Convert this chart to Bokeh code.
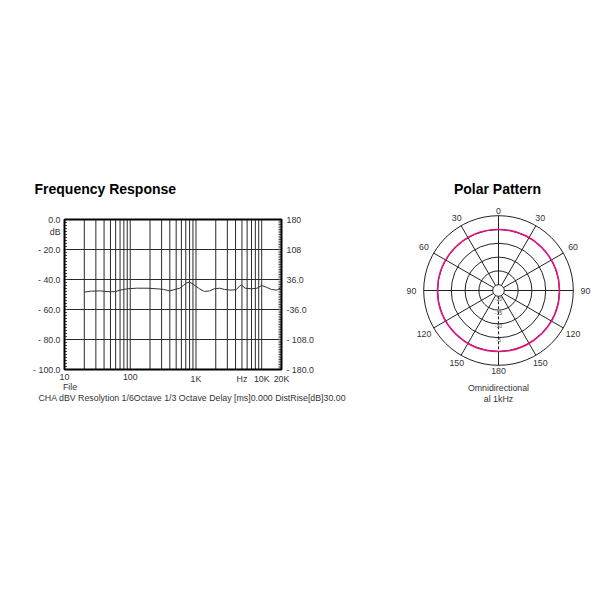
import numpy as np
from bokeh.plotting import figure
from bokeh.models import Range1d
from bokeh.layouts import row
from bokeh.embed import file_html
from bokeh.resources import INLINE
from bokeh.core.properties import value

# ---------------- data ----------------
freq_hz = [20, 25, 35, 50, 60, 70, 90, 125, 180, 255, 320, 400, 480, 570, 640, 720,
           800, 900, 1130, 1350, 1600, 1900, 2300, 2700, 3400, 4100, 4700, 4900, 5600,
           7000, 8500, 10000, 12000, 14000, 17000, 19000, 20000]
level_db = [-48.4, -47.8, -47.6, -48.2, -48.0, -47.1, -46.2, -45.8, -45.8, -46.2, -46.6,
            -47.6, -46.6, -45.8, -44.0, -42.2, -41.8, -43.0, -46.2, -48.0, -47.6, -46.2,
            -45.8, -46.6, -47.1, -46.8, -44.0, -43.6, -45.8, -46.2, -45.8, -44.0, -45.3,
            -46.6, -47.1, -45.8, -45.8]

db_ticks = [0, -20, -40, -60, -80, -100]
db_tick_labels = ["0.0", "- 20.0", "- 40.0", "- 60.0", "- 80.0", "- 100.0"]
db_unit = "dB"
phase_ticks = [180, 108, 36, -36, -108, -180]
phase_tick_labels = ["180", "108", "36.0", "-36.0", "- 108.0", "- 180.0"]
freq_ticks = [10, 100, 1000, 5000, 10000, 20000]
freq_tick_labels = ["10", "100", "1K", "Hz", "10K", "20K"]
freq_grid = [20, 30, 40, 50, 60, 70, 80, 90, 100, 200, 300, 400, 500, 600, 700, 800, 900,
             1000, 2000, 3000, 4000, 5000, 6000, 7000, 8000, 9000, 10000]
db_grid = [-20, -40, -60, -80]
f_min, f_max = 10, 20000
db_min, db_max = -100, 0
ph_min, ph_max = -180, 180
file_label = "File"
caption = "CHA dBV Resolytion 1/6Octave 1/3 Octave Delay [ms]0.000 DistRise[dB]30.00"
title_fr = "Frequency Response"

ring_db = [-20, -15, -10, -5, 0, 5]
ring_label_db = [-20, -15, -10, -5]
ring_label_text = ["-20", "-15", "-10", "-5"]
spoke_angles = [0, 30, 60, 90, 120, 150, 180, 210, 240, 270, 300, 330]
angle_label_text = ["0", "30", "60", "90", "120", "150", "180", "150", "120", "90", "60", "30"]
omni_level_db = 0
title_polar = "Polar Pattern"
polar_note = ["Omnidirectional", "al 1kHz"]

FONT = value("Liberation Sans")
TXT = "#333333"
FS = "8.8px"

# ---------------- frequency response (frame = whole canvas) ----------------
W1, H = 352, 584
BL, BT, FW, FH = 64, 219, 217, 150          # frame box inside canvas (px)
D = FW / np.log10(f_max / f_min)            # px per decade
PY = FH / (db_max - db_min)                 # px per dB
x_lo = 10 ** (np.log10(f_min) - BL / D)
x_hi = 10 ** (np.log10(f_max) + (W1 - BL - FW) / D)
y_hi = db_max + BT / PY
y_lo = db_min - (H - BT - FH) / PY


def fx(f, dpx):
    """frequency shifted by dpx screen pixels on the log axis"""
    return f * 10 ** (dpx / D)


def ph2db(ph):
    return db_min + (np.asarray(ph, dtype=float) - ph_min) * (db_max - db_min) / (ph_max - ph_min)


p = figure(width=W1, height=H, x_axis_type="log", x_range=Range1d(x_lo, x_hi),
           y_range=Range1d(y_lo, y_hi), min_border=0, x_axis_location=None,
           y_axis_location=None, toolbar_location=None, output_backend="svg")
p.grid.visible = False
p.outline_line_color = None
p.background_fill_color = "white"
p.border_fill_color = "white"

# grid
p.segment(x0=freq_grid, y0=[db_min] * len(freq_grid), x1=freq_grid, y1=[db_max] * len(freq_grid),
          line_color="#2a2a2a", line_width=1)
p.segment(x0=[f_min] * len(db_grid), y0=db_grid, x1=[f_max] * len(db_grid), y1=db_grid,
          line_color="#2a2a2a", line_width=1)

# left ruler ticks
minor_db = list(range(db_min, db_max + 1, 2))
p.segment(x0=[f_min] * len(minor_db), y0=minor_db, x1=[fx(f_min, 2.5)] * len(minor_db),
          y1=minor_db, line_color="#444444", line_width=1)
# right ruler ticks
minor_ph = list(range(ph_min, ph_max + 1, 4))
p.segment(x0=[f_max] * len(minor_ph), y0=list(ph2db(minor_ph)),
          x1=[fx(f_max, -3)] * len(minor_ph), y1=list(ph2db(minor_ph)),
          line_color="#555555", line_width=1)

# frame box
p.quad(left=[f_min], right=[f_max], bottom=[db_min], top=[db_max], fill_color=None,
       line_color="black", line_width=2)

# response curve
p.line(freq_hz, level_db, line_color="#333333", line_width=1)

# tick labels
p.text(x=[fx(f_min, -4)] * len(db_ticks), y=db_ticks, text=db_tick_labels, text_font=FONT,
       text_font_size=FS, text_color=TXT, text_align="right", text_baseline="middle")
p.text(x=[fx(f_min, -4)], y=[db_max - 12 / PY], text=[db_unit], text_font=FONT,
       text_font_size=FS, text_color=TXT, text_align="right", text_baseline="middle")
p.text(x=[fx(f_max, 5)] * len(phase_ticks), y=list(ph2db(phase_ticks)), text=phase_tick_labels,
       text_font=FONT, text_font_size=FS, text_color=TXT, text_align="left",
       text_baseline="middle")
p.text(x=freq_ticks, y=[db_min - 4 / PY] * len(freq_ticks), text=freq_tick_labels,
       text_font=FONT, text_font_size=FS, text_color=TXT, text_align="center",
       text_baseline="top")
p.text(x=[fx(f_min, -1.5)], y=[db_min - 12 / PY], text=[file_label], text_font=FONT,
       text_font_size=FS, text_color=TXT, text_align="left", text_baseline="top")
p.text(x=[fx(f_min, -26)], y=[db_min - 28 / PY], text=[caption], text_font=FONT,
       text_font_size=FS, text_color=TXT, text_align="left", text_baseline="middle")
p.text(x=[fx(f_min, -30)], y=[db_max + 31 / PY], text=[title_fr], text_font=FONT,
       text_font_size="14px", text_font_style="bold", text_color="black",
       text_align="left", text_baseline="middle")

# ---------------- polar pattern ----------------
W2 = 248
CX, CY = 146, 290                      # centre inside canvas (px)
R0, K = 61.0, 2.76                     # px radius of 0 dB ring, px per dB


def rad(db):
    return R0 + np.asarray(db, dtype=float) * K


q = figure(width=W2, height=H, x_range=Range1d(-CX, W2 - CX), y_range=Range1d(CY - H, CY),
           min_border=0, x_axis_location=None, y_axis_location=None,
           toolbar_location=None, output_backend="svg")
q.grid.visible = False
q.outline_line_color = None
q.background_fill_color = "white"
q.border_fill_color = "white"

r_in, r_zero, r_out = float(rad(ring_db[0])), float(rad(omni_level_db)), float(rad(ring_db[-1]))
th = np.radians(spoke_angles)
solid = np.array(spoke_angles) != 180
q.segment(x0=list((r_in * np.sin(th))[solid]), y0=list((r_in * np.cos(th))[solid]),
          x1=list((r_out * np.sin(th))[solid]), y1=list((r_out * np.cos(th))[solid]),
          line_color="#222222", line_width=1)
q.segment(x0=[0], y0=[-r_in], x1=[0], y1=[-r_zero], line_color="#222222",
          line_width=1, line_dash="3 2")
q.segment(x0=[0], y0=[-r_zero], x1=[0], y1=[-r_out], line_color="#222222", line_width=1)

q.circle(x=[0] * len(ring_db), y=[0] * len(ring_db), radius=list(rad(ring_db)),
         fill_color=None, line_color="#222222", line_width=1)
q.circle(x=[0], y=[0], radius=[r_zero], fill_color=None, line_color="#e0147c", line_width=1.6)

rl = rad(ring_label_db) + 2.5
q.text(x=[0] * len(rl), y=list(-rl), text=ring_label_text, text_font=FONT,
       text_font_size="5.2px", text_color="#444444", text_align="center",
       text_baseline="middle")

lab_r = 80 + 7 * np.abs(np.sin(th))
q.text(x=list(lab_r * np.sin(th)), y=list(lab_r * np.cos(th)), text=angle_label_text,
       text_font=FONT, text_font_size=FS, text_color=TXT, text_align="center",
       text_baseline="middle")

q.text(x=[-1], y=[102], text=[title_polar], text_font=FONT, text_font_style="bold",
       text_font_size="14px", text_color="black", text_align="center", text_baseline="middle")
q.text(x=[0, 0], y=[-97, -108], text=polar_note, text_font=FONT, text_font_size=FS,
       text_color=TXT, text_align="center", text_baseline="middle")

layout = row(p, q)
open("out.html", "w").write(file_html(layout, INLINE))
